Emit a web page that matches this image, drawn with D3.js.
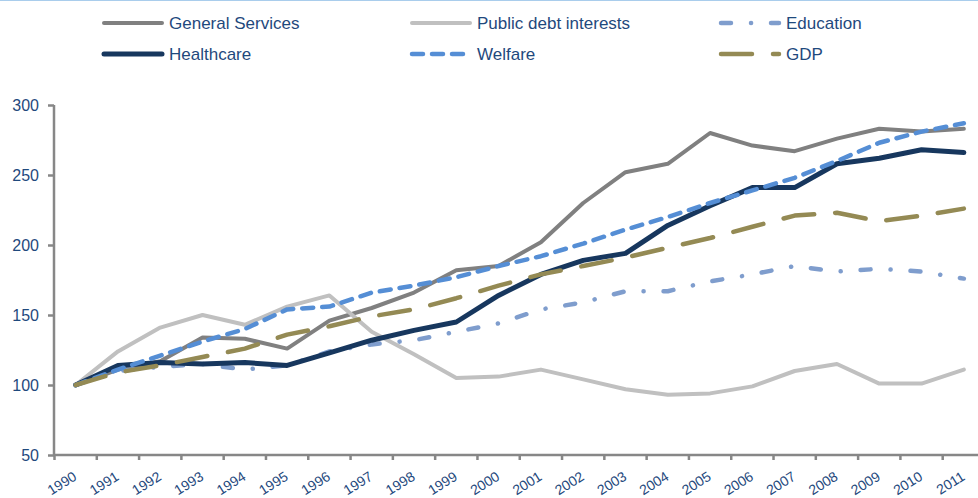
<!DOCTYPE html>
<html>
<head>
<meta charset="utf-8">
<script src="https://cdn.jsdelivr.net/npm/d3@7"></script>
<style>
  html, body { margin: 0; padding: 0; background: #fff; }
  svg { display: block; font-family: "Liberation Sans", Arial, sans-serif; }
</style>
</head>
<body>
<svg id="chart" width="978" height="498"></svg>
<script>
// Spending indices by function (1990 = 100)
const years = [1990,1991,1992,1993,1994,1995,1996,1997,1998,1999,2000,
               2001,2002,2003,2004,2005,2006,2007,2008,2009,2010,2011];

const generalServices = [100,111,117,134,133,126,146,155,166,182,185,202,230,252,258,280,271,267,276,283,281,283];
const publicDebt      = [100,124,141,150,143,156,164,138,122,105,106,111,104,97,93,94,99,110,115,101,101,111];
const education       = [100,110,113,115,111,114,124,129,132,138,144,154,159,167,167,174,179,185,181,183,181,176];
const healthcare      = [100,114,116,115,116,114,123,132,139,145,164,179,189,194,214,228,241,241,258,262,268,266];
const welfare         = [100,111,121,131,140,154,156,166,171,177,185,192,201,211,220,230,239,248,260,273,281,287];
const gdp             = [100,109,114,120,126,136,142,149,154,162,171,179,185,191,198,205,213,221,223,217,221,226];

const yTicks = [50,100,150,200,250,300];

const seriesNames = ["General Services","Public debt interests","Education","Healthcare","Welfare","GDP"];
const seriesValues = [generalServices, publicDebt, education, healthcare, welfare, gdp];

// styling per series
const styles = [
  {color:"#808080", width:4,   dash:null,              cap:"round"},
  {color:"#C0C0C0", width:4,   dash:null,              cap:"round"},
  {color:"#7F9DCD", width:4.5, dash:"10,20,0.1,19.9",  cap:"round"},
  {color:"#17375E", width:5,   dash:null,              cap:"round"},
  {color:"#558ED5", width:4.5, dash:"11,9",            cap:"round"},
  {color:"#948A54", width:4.5, dash:"31,21",           cap:"round"}
];

const textColor = "#1F497D";
const axisColor = "#878787";

const svg = d3.select("#chart");

// thin frame line along the top
svg.append("line")
  .attr("x1", 0).attr("x2", 978).attr("y1", 0.5).attr("y2", 0.5)
  .attr("stroke", "#A9CDEC").attr("stroke-width", 1);

const x = d3.scaleBand().domain(years).range([54.5, 985]).paddingInner(0).paddingOuter(0);
const y = d3.scaleLinear().domain([50, 300]).range([455, 105]);
const cx = yr => x(yr) + x.bandwidth() / 2;

// y axis
const yAxis = svg.append("g").attr("transform", "translate(54,0)")
  .call(d3.axisLeft(y).tickValues(yTicks).tickSize(6).tickPadding(9));
yAxis.select(".domain").attr("stroke", axisColor).attr("stroke-width", 2.5)
  .attr("d", `M0,${y(300)}V${y(50)}`);
yAxis.selectAll(".tick line").attr("stroke", axisColor).attr("stroke-width", 2.5);
yAxis.selectAll(".tick text").attr("fill", textColor).attr("font-size", 16)
  .attr("font-family", "Liberation Sans, Arial, sans-serif");

// x axis: ticks sit on category boundaries
const xAxisG = svg.append("g");
xAxisG.append("line")
  .attr("x1", 53).attr("x2", 978).attr("y1", 455).attr("y2", 455)
  .attr("stroke", axisColor).attr("stroke-width", 2.5);
xAxisG.selectAll("line.tick").data(years).join("line")
  .attr("class", "tick")
  .attr("x1", d => x(d)).attr("x2", d => x(d))
  .attr("y1", 455).attr("y2", 460)
  .attr("stroke", axisColor).attr("stroke-width", 2.5);
xAxisG.selectAll("text").data(years).join("text")
  .attr("transform", d => `translate(${cx(d) + 2},${479}) rotate(-32)`)
  .attr("text-anchor", "end")
  .attr("fill", textColor)
  .attr("font-size", 14)
  .text(d => d);

// lines
const line = d3.line()
  .x((d, i) => cx(years[i]))
  .y(d => y(d));

svg.append("g").selectAll("path")
  .data(seriesValues)
  .join("path")
  .attr("d", d => line(d))
  .attr("fill", "none")
  .attr("stroke", (d, i) => styles[i].color)
  .attr("stroke-width", (d, i) => styles[i].width)
  .attr("stroke-dasharray", (d, i) => styles[i].dash)
  .attr("stroke-linecap", (d, i) => styles[i].cap)
  .attr("stroke-linejoin", "round");

// legend: three columns, two rows
const legendCols = [104, 412, 721];
const legendRows = [23, 54];
const legend = svg.append("g");
seriesNames.forEach((name, i) => {
  const col = i % 3, row = Math.floor(i / 3);
  const lx = legendCols[col], ly = legendRows[row];
  const s = styles[i];
  legend.append("line")
    .attr("x1", lx).attr("x2", lx + 58).attr("y1", ly).attr("y2", ly)
    .attr("stroke", s.color).attr("stroke-width", s.width)
    .attr("stroke-dasharray", s.dash)
    .attr("stroke-linecap", "round");
  legend.append("text")
    .attr("x", lx + 65).attr("y", ly)
    .attr("dy", "0.35em")
    .attr("fill", textColor)
    .attr("font-size", 17)
    .text(name);
});
</script>
</body>
</html>
